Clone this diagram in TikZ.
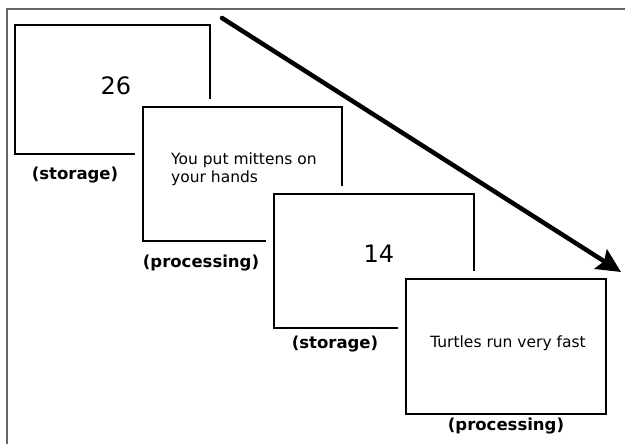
\documentclass[tikz,border=0pt]{standalone}
\usepackage{fontspec}
\setmainfont{DejaVu Sans}
\usetikzlibrary{arrows.meta}
\begin{document}
\begin{tikzpicture}[x=1pt,y=-1pt,
  panel/.style={draw=black, line width=2pt, fill=white, rectangle,
    inner sep=0pt, anchor=north west},
  halo/.style={preaction={draw=white, line width=16pt}},
  caption/.style={font=\fontsize{16.5}{18}\selectfont\bfseries, inner sep=0pt},
  bignum/.style={font=\fontsize{24}{26}\selectfont, inner sep=0pt},
  body/.style={font=\fontsize{15.5}{18}\selectfont, inner sep=0pt, align=left},
  frameline/.style={draw=black!60, line width=2pt}]
\useasboundingbox (0,0) rectangle (625,444);

% partial frame along the top and left
\coordinate (fl) at (7,444);
\coordinate (ftl) at (7,9.5);
\coordinate (ftr) at (625,9.5);
\draw[frameline] (fl) -- (ftl) -- (ftr);

% first storage panel
\node[panel, minimum width=195pt, minimum height=129pt] (s1) at (14,24) {};
\node[bignum] (n26) at (116,86) {26};
\node[caption] (cs1) at (75,175) {(storage)};

% first processing panel
\node[panel, halo, minimum width=199pt, minimum height=134pt] (p1) at (142,106) {};
\node[body, anchor=west] (t1) at (171,169) {You put mittens on\\your hands};
\node[caption] (cp1) at (201,263) {(processing)};

% second storage panel
\node[panel, halo, minimum width=200pt, minimum height=134pt] (s2) at (273,193) {};
\node[bignum] (n14) at (379,254) {14};
\node[caption] (cs2) at (335,344) {(storage)};

% second processing panel
\node[panel, halo, minimum width=200pt, minimum height=135pt] (p2) at (405,278) {};
\node[body] (t2) at (508,343) {Turtles run very fast};
\node[caption] (cp2) at (506,426) {(processing)};

% time arrow
\coordinate (astart) at (222,18);
\coordinate (aend) at (621,272);
\draw[line width=4.5pt, line cap=round,
  -{Stealth[length=24pt, width=23pt, inset=4pt]}] (astart) -- (aend);
\end{tikzpicture}
\end{document}
